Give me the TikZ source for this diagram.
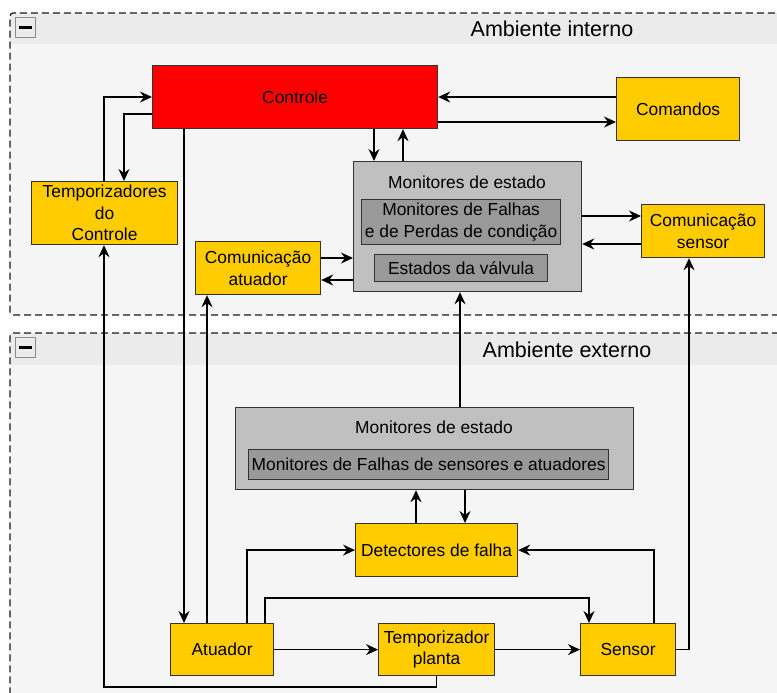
\documentclass[tikz,border=0pt]{standalone}
\usepackage{fontspec}
\setmainfont{Liberation Sans}
\usetikzlibrary{arrows.meta}
\definecolor{yfill}{HTML}{FFCC00}
\definecolor{bstroke}{HTML}{333333}
\definecolor{gouter}{HTML}{C0C0C0}
\definecolor{ginner}{HTML}{999999}
\definecolor{bodyc}{HTML}{F5F5F5}
\definecolor{headc}{HTML}{EBEBEB}
\definecolor{iconbd}{HTML}{8C8C8C}
\begin{document}
\begin{tikzpicture}[x=1pt,y=-1pt,
  txt/.style={font=\fontsize{17.4}{21.5}\selectfont, align=center, inner sep=0pt},
  hdr/.style={font=\fontsize{21.5}{25}\selectfont, inner sep=0pt},
  boxbase/.style={draw=bstroke, line width=1.2pt, inner sep=0pt, align=center,
     anchor=north west, font=\fontsize{17.4}{21.5}\selectfont},
  ybox/.style={boxbase, fill=yfill},
  gbox/.style={boxbase, fill=gouter},
  ibox/.style={boxbase, fill=ginner},
  cont/.style={draw=black!90, line width=1.2pt, dash pattern=on 7pt off 4pt, rounded corners=3pt},
  conn/.style={line width=1.4pt, -{Stealth[length=12pt,width=11pt,inset=4pt]}},
  plain/.style={line width=1.4pt}
]
\useasboundingbox (0,0) rectangle (777,693);
\clip (0,0) rectangle (777,693);

% containers
\fill[bodyc] (10,13) rectangle (790,315);
\fill[headc] (10,13) rectangle (790,44);
\draw[cont] (790,315) -- (10,315) -- (10,13) -- (790,13);
\fill[bodyc] (10,333) rectangle (790,710);
\fill[headc] (10,333) rectangle (790,365);
\draw[cont] (790,333) -- (10,333) -- (10,710);

% collapse icons
\node[draw=iconbd, fill=white!92!black, line width=1pt, minimum size=20pt, inner sep=0pt, anchor=north west] (icon1) at (15,17) {};
\draw[line width=2.6pt] (icon1.center) ++(-6.5,0) -- ++(13,0);
\node[draw=iconbd, fill=white!92!black, line width=1pt, minimum size=20pt, inner sep=0pt, anchor=north west] (icon2) at (15,337) {};
\draw[line width=2.6pt] (icon2.center) ++(-6.5,0) -- ++(13,0);

\node[hdr] (hint) at (552,29) {Ambiente interno};
\node[hdr] (hext) at (567,350) {Ambiente externo};

% nodes - internal
\node[boxbase, fill=red, minimum width=285pt, minimum height=63pt] (ctrl) at (152,65) {Controle};
\node[ybox, minimum width=123pt, minimum height=63pt] (com) at (616,77) {Comandos};
\node[ybox, minimum width=146pt, minimum height=63pt] (tctl) at (31,181) {Temporizadores\\do\\Controle};
\node[ybox, minimum width=125pt, minimum height=53pt] (cat) at (195,241) {Comunicação\\atuador};
\node[gbox, minimum width=228pt, minimum height=130pt] (mint) at (353,161) {};
\node[txt] (mintt) at (467,182) {Monitores de estado};
\node[ibox, minimum width=199pt, minimum height=45pt] (mf) at (361,199) {Monitores de Falhas\\e de Perdas de condição};
\node[ibox, minimum width=173pt, minimum height=27pt] (mv) at (374,254) {Estados da válvula};
\node[ybox, minimum width=123pt, minimum height=53pt] (csen) at (641,204) {Comunicação\\sensor};

% nodes - external
\node[gbox, minimum width=398pt, minimum height=82pt] (mext) at (235,407) {};
\node[txt] (mextt) at (434,427) {Monitores de estado};
\node[ibox, minimum width=360pt, minimum height=30pt] (mfs) at (248,449) {Monitores de Falhas de sensores e atuadores};
\node[ybox, minimum width=162pt, minimum height=53pt] (det) at (355,523) {Detectores de falha};
\node[ybox, minimum width=103pt, minimum height=52pt] (atu) at (170,623) {Atuador};
\node[ybox, minimum width=116pt, minimum height=52pt] (tp) at (378,623) {Temporizador\\planta};
\node[ybox, minimum width=95pt, minimum height=52pt] (sen) at (580,623) {Sensor};

% connectors
\draw[conn] (ctrl.south -| 184,0) -- (atu.north -| 184,0);
\draw[conn] (atu.north -| 207,0) -- (cat.south -| 207,0);
\draw[conn] (atu.north -| 247,0) |- (det.west);
\draw[conn] (atu.north -| 265,0) |- (589,598) -- (sen.north -| 589,0);
\draw[conn] (atu.east) -- (tp.west);
\draw[conn] (tp.east) -- (sen.west);
\draw[conn] (sen.north -| 654,0) |- (det.east);
\draw[conn] (sen.east) -| (csen.south -| 689,0);
\draw[conn] (tp.south) |- (104,687) -- (tctl.south -| 104,0);
\draw[conn] (tctl.north -| 104,0) |- (ctrl.west |- 0,97);
\draw[conn] (ctrl.west |- 0,114) -| (tctl.north -| 124,0);
\draw[conn] (det.north -| 416,0) -- (mext.south -| 416,0);
\draw[conn] (mext.south -| 465,0) -- (det.north -| 465,0);
\draw[conn] (mext.north -| 460,0) -- (mint.south -| 460,0);
\draw[conn] (ctrl.south -| 374,0) -- (mint.north -| 374,0);
\draw[conn] (mint.north -| 403,0) -- (ctrl.south -| 403,0);
\draw[conn] (com.west |- 0,97) -- (ctrl.east |- 0,97);
\draw[conn] (ctrl.east |- 0,122) -- (com.west |- 0,122);
\draw[conn] (mint.east |- 0,216) -- (csen.west |- 0,216);
\draw[conn] (csen.west |- 0,244) -- (mint.east |- 0,244);
\draw[conn] (cat.east |- 0,258) -- (mint.west |- 0,258);
\draw[conn] (mint.west |- 0,280) -- (cat.east |- 0,280);
\end{tikzpicture}
\end{document}
